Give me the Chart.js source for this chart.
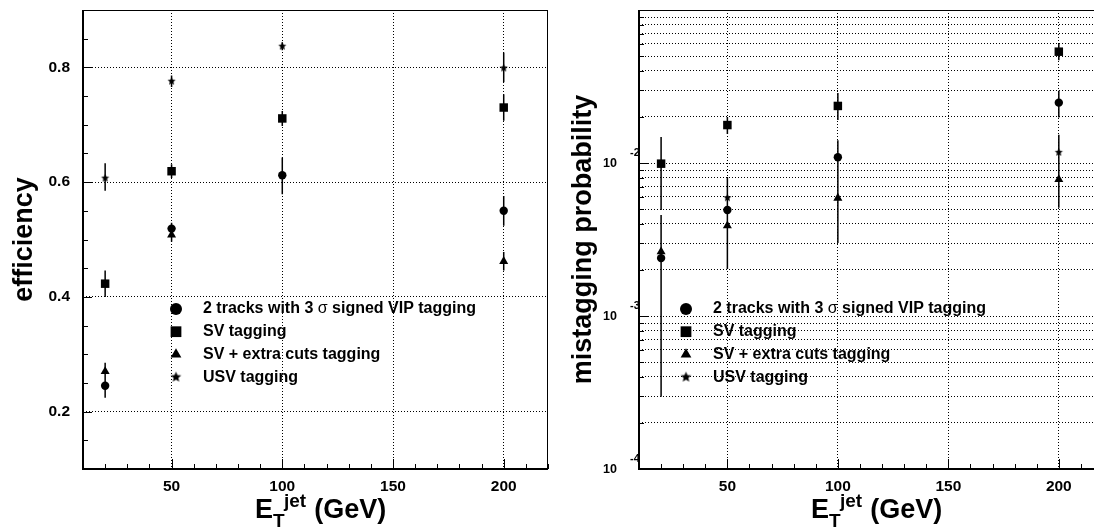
<!DOCTYPE html>
<html>
<head>
<meta charset="utf-8">
<script src="https://cdn.jsdelivr.net/npm/chart.js@4.4.1/dist/chart.umd.min.js"></script>
<style>
  html, body { margin: 0; padding: 0; background: #fff; overflow: hidden; }
  body { width: 1094px; height: 527px; position: relative; }
  .panel { position: absolute; top: 0; width: 560px; height: 527px; }
  #left { left: 0; }
  #right { left: 560px; }
</style>
</head>
<body>
<div class="panel" id="left"><canvas id="effChart" width="560" height="527"></canvas></div>
<div class="panel" id="right"><canvas id="mistagChart" width="560" height="527"></canvas></div>
<script>
const FONT = "'Liberation Sans', Arial, Helvetica, sans-serif";

// jet E_T bins (GeV)
const etJet = [20, 50, 100, 200];
const seriesLabels = [
    '2 tracks with 3 σ signed VIP tagging',
    'SV tagging',
    'SV + extra cuts tagging',
    'USV tagging'
];

// efficiency (left panel)
const effVip = [0.245, 0.519, 0.612, 0.550];
const effVipLo = [0.224, 0.509, 0.579, 0.524];
const effVipHi = [0.266, 0.529, 0.643, 0.576];
const effSv = [0.423, 0.619, 0.711, 0.730];
const effSvLo = [0.400, 0.607, 0.698, 0.707];
const effSvHi = [0.446, 0.631, 0.724, 0.753];
const effCuts = [0.270, 0.508, null, 0.462];
const effCutsLo = [0.255, 0.496, null, 0.446];
const effCutsHi = [0.285, 0.520, null, 0.478];
const effUsv = [0.607, 0.776, 0.837, 0.799];
const effUsvLo = [0.585, 0.766, 0.830, 0.774];
const effUsvHi = [0.633, 0.786, 0.844, 0.826];

// mistagging probability (right panel)
const misVip = [0.00239, 0.00493, 0.0109, 0.0248];
const misVipLo = [0.000297, 0.00203, 0.0075, 0.0198];
const misVipHi = [0.00457, 0.0081, 0.0141, 0.0297];
const misSv = [0.0099, 0.0177, 0.0236, 0.0534];
const misSvLo = [0.00493, 0.0155, 0.0191, 0.0470];
const misSvHi = [0.0148, 0.0200, 0.0287, 0.0600];
const misCuts = [0.00263, 0.00389, 0.0059, 0.0078];
const misCutsLo = [0.0012, 0.0025, 0.0030, 0.0051];
const misCutsHi = [0.0044, 0.0058, 0.0085, 0.0105];
const misUsv = [null, 0.00593, null, 0.01175];
const misUsvLo = [null, 0.0045, null, 0.0085];
const misUsvHi = [null, 0.0081, null, 0.0153];

// tick values
const xTicks = [10, 20, 30, 40, 50, 60, 70, 80, 90, 100, 110, 120, 130, 140, 150, 160, 170, 180, 190, 200, 210, 220];
const xLabelTicks = [50, 100, 150, 200];
const effTicks = [0.1, 0.15, 0.2, 0.25, 0.3, 0.35, 0.4, 0.45, 0.5, 0.55, 0.6, 0.65, 0.7, 0.75, 0.8, 0.85, 0.9];
const effLabelTicks = [0.2, 0.4, 0.6, 0.8];
const misDecades = [-4, -3, -2, -1];

function starImage(r) {
    const c = document.createElement('canvas');
    const s = Math.ceil(r * 2) + 2;
    c.width = s;
    c.height = s;
    const g = c.getContext('2d');
    g.fillStyle = '#000';
    g.beginPath();
    for (let i = 0; i < 10; i++) {
        const a = -Math.PI / 2 + i * Math.PI / 5;
        const rr = i % 2 ? r * 0.45 : r;
        g.lineTo(s / 2 + rr * Math.cos(a), s / 2 + rr * Math.sin(a));
    }
    g.closePath();
    g.fill();
    return c;
}

const plotStyles = [
    { pointStyle: 'circle', radius: 4.2 },
    { pointStyle: 'rect', radius: 6 },
    { pointStyle: 'triangle', radius: 5.2 },
    { pointStyle: starImage(4.3), radius: 4 }
];
const legendStyles = [
    { pointStyle: 'circle', radius: 6 },
    { pointStyle: 'rect', radius: 7.6 },
    { pointStyle: 'triangle', radius: 6.2 },
    { pointStyle: starImage(5.5), radius: 5 }
];

function points(vals, lo, hi) {
    return etJet.map((x, i) => vals[i] == null ? null : { x: x, y: vals[i], lo: lo[i], hi: hi[i] })
        .filter(p => p !== null);
}

function buildDatasets(series) {
    return series.map((s, i) => ({
        label: seriesLabels[i],
        data: points(s[0], s[1], s[2]),
        pointStyle: plotStyles[i].pointStyle,
        pointRadius: plotStyles[i].radius,
        pointHoverRadius: plotStyles[i].radius,
        backgroundColor: '#000',
        borderColor: '#000',
        borderWidth: 0,
        showLine: false
    }));
}

// frame, inward tick marks and error bars
function framePlugin(xMajor, yMajor, yMajorLen) {
    return {
        id: 'frameTicks',
        beforeDatasetsDraw(chart) {
            const { ctx, chartArea: a, scales: { x, y } } = chart;
            ctx.save();
            ctx.strokeStyle = '#000';
            ctx.lineWidth = 1;
            ctx.strokeRect(a.left + 0.5, a.top + 0.5, a.right - a.left - 1, a.bottom - a.top - 1);
            ctx.lineWidth = 2;
            ctx.beginPath();
            ctx.moveTo(a.left, a.top);
            ctx.lineTo(a.left, a.bottom);
            ctx.lineTo(a.right, a.bottom);
            ctx.stroke();
            ctx.lineWidth = 1;
            ctx.beginPath();
            x.ticks.forEach(t => {
                const px = Math.round(x.getPixelForValue(t.value)) + 0.5;
                const len = xMajor(t.value) ? 10 : 5;
                ctx.moveTo(px, a.bottom);
                ctx.lineTo(px, a.bottom - len);
            });
            y.ticks.forEach(t => {
                const py = Math.round(y.getPixelForValue(t.value)) + 0.5;
                const len = yMajor(t.value) ? yMajorLen : 5;
                ctx.moveTo(a.left, py);
                ctx.lineTo(a.left + len, py);
            });
            ctx.stroke();

            // error bars
            ctx.beginPath();
            ctx.rect(a.left, a.top, a.right - a.left, a.bottom - a.top);
            ctx.clip();
            ctx.lineWidth = 1.5;
            ctx.beginPath();
            chart.data.datasets.forEach(ds => {
                ds.data.forEach(p => {
                    const px = x.getPixelForValue(p.x);
                    ctx.moveTo(px, y.getPixelForValue(p.lo));
                    ctx.lineTo(px, y.getPixelForValue(p.hi));
                });
            });
            ctx.stroke();
            ctx.restore();
        }
    };
}

// in-frame legend and the E_T^jet axis title
function legendPlugin(markerDx, textDx) {
    return {
        id: 'innerLegend',
        afterDraw(chart) {
            const { ctx, chartArea: a } = chart;
            ctx.save();
            ctx.fillStyle = '#000';
            ctx.strokeStyle = '#000';
            chart.data.datasets.forEach((ds, i) => {
                const yy = a.top + 299 + i * 22.7;
                Chart.helpers.drawPoint(ctx, {
                    pointStyle: legendStyles[i].pointStyle,
                    radius: legendStyles[i].radius,
                    rotation: 0,
                    borderWidth: 0
                }, a.left + markerDx, yy);
                ctx.textBaseline = 'middle';
                ctx.textAlign = 'left';
                let tx = a.left + textDx;
                ds.label.split(/(σ)/).forEach(part => {
                    ctx.font = (part === 'σ' ? '' : 'bold ') + '16px ' + FONT;
                    ctx.fillText(part, tx, yy);
                    tx += ctx.measureText(part).width;
                });
            });

            // x title: E_T^jet (GeV)
            ctx.textBaseline = 'alphabetic';
            let tx = a.left + 172;
            ctx.font = 'bold 27px ' + FONT;
            ctx.fillText('E', tx, a.bottom + 49);
            tx += ctx.measureText('E').width;
            ctx.font = 'bold 19px ' + FONT;
            ctx.fillText('T', tx, a.bottom + 58);
            ctx.fillText('jet', tx + 11, a.bottom + 38);
            tx += 11 + ctx.measureText('jet').width + 8;
            ctx.font = 'bold 27px ' + FONT;
            ctx.fillText('(GeV)', tx, a.bottom + 49);
            ctx.restore();
        }
    };
}

// 10^n labels on the log axis
const logLabelPlugin = {
    id: 'logLabels',
    afterDraw(chart) {
        const { ctx, chartArea: a, scales: { y } } = chart;
        ctx.save();
        ctx.fillStyle = '#000';
        misDecades.forEach(e => {
            if (e === -1) return;
            const py = y.getPixelForValue(Math.pow(10, e));
            ctx.textBaseline = 'middle';
            ctx.textAlign = 'right';
            ctx.font = 'bold 12.5px ' + FONT;
            ctx.fillText('10', a.left - 22, py + 1);
            ctx.textAlign = 'left';
            ctx.font = 'bold 11px ' + FONT;
            ctx.fillText(String(e), a.left - 9, py - 10);
        });
        ctx.restore();
    }
};

function xScale() {
    return {
        type: 'linear',
        min: 10,
        max: 220,
        afterBuildTicks: s => { s.ticks = xTicks.map(v => ({ value: v })); },
        afterFit: s => { s.height = 58; s.paddingLeft = 0; s.paddingRight = 0; },
        ticks: {
            autoSkip: false,
            maxRotation: 0,
            padding: 8,
            color: '#000',
            font: { family: FONT, size: 15.5, weight: 'bold' },
            callback: v => xLabelTicks.includes(v) ? String(v) : ''
        },
        grid: {
            drawTicks: false,
            color: c => c.tick && xLabelTicks.includes(c.tick.value) ? '#000' : 'transparent',
            lineWidth: 1
        },
        border: { display: false, dash: [1, 2] }
    };
}

const isEffMajor = v => effLabelTicks.some(m => Math.abs(m - v) < 1e-6);

new Chart(document.getElementById('effChart'), {
    type: 'scatter',
    data: {
        datasets: buildDatasets([
            [effVip, effVipLo, effVipHi],
            [effSv, effSvLo, effSvHi],
            [effCuts, effCutsLo, effCutsHi],
            [effUsv, effUsvLo, effUsvHi]
        ])
    },
    options: {
        responsive: false,
        animation: false,
        layout: { padding: { left: 11, right: 12, top: 10, bottom: 0 } },
        plugins: { legend: { display: false }, tooltip: { enabled: false } },
        scales: {
            x: xScale(),
            y: {
                type: 'linear',
                min: 0.1,
                max: 0.9,
                afterBuildTicks: s => { s.ticks = effTicks.map(v => ({ value: v })); },
                afterFit: s => { s.width = 72; s.paddingTop = 0; s.paddingBottom = 0; },
                ticks: {
                    autoSkip: false,
                    padding: 13,
                    color: '#000',
                    font: { family: FONT, size: 15.5, weight: 'bold' },
                    callback: v => isEffMajor(v) ? v.toFixed(1) : ''
                },
                grid: {
                    drawTicks: false,
                    color: c => c.tick && isEffMajor(c.tick.value) ? '#000' : 'transparent',
                    lineWidth: 1
                },
                border: { display: false, dash: [1, 2] },
                title: {
                    display: true,
                    text: 'efficiency',
                    color: '#000',
                    padding: 0,
                    font: { family: FONT, size: 27, weight: 'bold', lineHeight: 1 }
                }
            }
        }
    },
    plugins: [framePlugin(v => xLabelTicks.includes(v), isEffMajor, 9), legendPlugin(93, 120)]
});

const misTicks = [];
misDecades.forEach(e => {
    const top = e === -1 ? 1 : 9;
    for (let m = 1; m <= top; m++) misTicks.push(Number((m * Math.pow(10, e)).toPrecision(3)));
});
const isDecade = v => Math.abs(Math.log10(v) - Math.round(Math.log10(v))) < 1e-6;

new Chart(document.getElementById('mistagChart'), {
    type: 'scatter',
    data: {
        datasets: buildDatasets([
            [misVip, misVipLo, misVipHi],
            [misSv, misSvLo, misSvHi],
            [misCuts, misCutsLo, misCutsHi],
            [misUsv, misUsvLo, misUsvHi]
        ])
    },
    options: {
        responsive: false,
        animation: false,
        layout: { padding: { left: 10, right: 17, top: 10, bottom: 0 } },
        plugins: { legend: { display: false }, tooltip: { enabled: false } },
        scales: {
            x: xScale(),
            y: {
                type: 'logarithmic',
                min: 1e-4,
                max: 1e-1,
                afterBuildTicks: s => { s.ticks = misTicks.map(v => ({ value: v })); },
                afterFit: s => { s.width = 69; s.paddingTop = 0; s.paddingBottom = 0; },
                ticks: { display: false, autoSkip: false },
                grid: { drawTicks: false, color: '#000', lineWidth: 1 },
                border: { display: false, dash: [1, 2] },
                title: {
                    display: true,
                    text: 'mistagging probability',
                    color: '#000',
                    padding: 0,
                    font: { family: FONT, size: 27, weight: 'bold', lineHeight: 1 }
                }
            }
        }
    },
    plugins: [framePlugin(v => xLabelTicks.includes(v), isDecade, 9), legendPlugin(47, 74), logLabelPlugin]
});
</script>
</body>
</html>
